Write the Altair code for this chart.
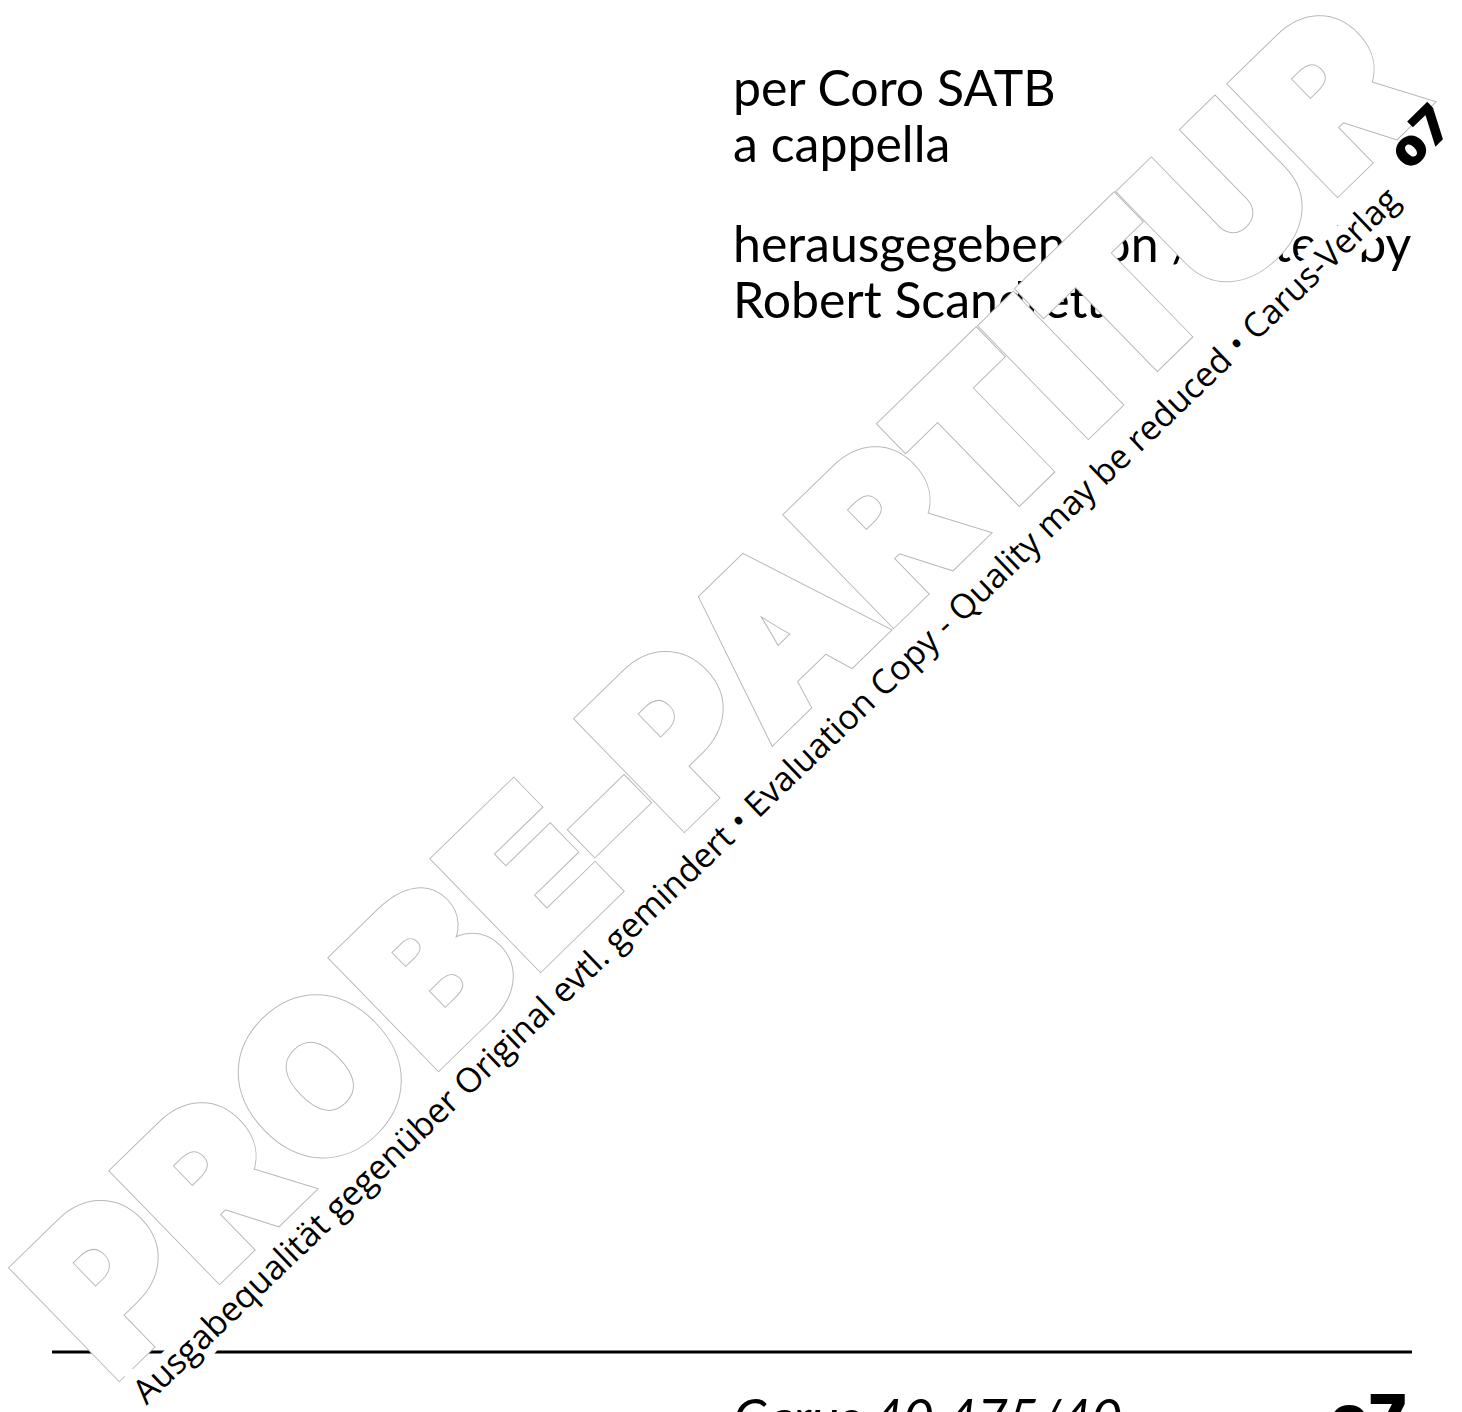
import altair as alt
import pandas as pd

# ---- text content ----
title_lines = ["per Coro SATB", "a cappella", "herausgegeben von / edited by", "Robert Scandrett"]
title_x = [733, 733, 733, 733]
title_y = [106, 162, 262, 318]

footer_text = ["Carus 40.475/40"]
footer_x = [733]
footer_y = [1437]

rule_x1 = [52]
rule_x2 = [1412]
rule_y = [1352]

# watermark letters of "PROBE-PARTITUR" and their baseline anchor points
stamp_letters = ["P", "R", "O", "B", "E", "-", "P", "A", "R", "T", "I", "T", "U", "R"]
stamp_x = [161, 262, 372, 481, 579, 651, 726, 829, 936, 1034, 1103, 1172, 1273, 1380]
stamp_y = [1335, 1237, 1130, 1024, 929, 859, 786, 685, 581, 486, 419, 351, 254, 150]

notice_text = ["Ausgabequalität gegenüber Original evtl. gemindert • Evaluation Copy - Quality may be reduced • Carus-Verlag"]
notice_x = [774]
notice_y = [804]

logo_text = ["o7", "o7"]
logo_x = [1432, 1368]
logo_y = [150, 1440]
logo_angle = [315.8, 0]
logo_size = [52, 63]

# ---- scales: page pixel coordinates ----
xs = alt.Scale(domain=[8, 1454], nice=False, zero=False)
ys = alt.Scale(domain=[8, 1412], nice=False, zero=False, reverse=True)


def base(df):
    return alt.Chart(df).encode(
        x=alt.X("x:Q", scale=xs, axis=None),
        y=alt.Y("y:Q", scale=ys, axis=None),
    )


titles = base(pd.DataFrame({"t": title_lines, "x": title_x, "y": title_y})).mark_text(
    font="Lato", fontSize=50, align="left", baseline="alphabetic", color="black"
).encode(text="t:N")

footer = base(pd.DataFrame({"t": footer_text, "x": footer_x, "y": footer_y})).mark_text(
    font="Lato", fontSize=53, fontStyle="italic", align="left", baseline="alphabetic", color="black"
).encode(text="t:N")

rule = alt.Chart(pd.DataFrame({"x": rule_x1, "x2": rule_x2, "y": rule_y})).mark_rule(
    color="black", strokeWidth=3
).encode(
    x=alt.X("x:Q", scale=xs, axis=None),
    x2="x2:Q",
    y=alt.Y("y:Q", scale=ys, axis=None),
)

stamp_df = pd.DataFrame({"t": stamp_letters, "x": stamp_x, "y": stamp_y})
stamp_common = dict(font="Inter", fontWeight=900, fontSize=206, angle=315.8,
                    align="center", baseline="alphabetic", strokeJoin="miter", strokeMiterLimit=10)
# thin grey contour slightly outside a white, emboldened letter
stamp_edge = base(stamp_df).mark_text(
    fill="#b8b8b8", stroke="#b8b8b8", strokeWidth=10, **stamp_common
).encode(text="t:N")
stamp_body = base(stamp_df).mark_text(
    fill="white", stroke="white", strokeWidth=8, **stamp_common
).encode(text="t:N")

notice_df = pd.DataFrame({"t": notice_text, "x": notice_x, "y": notice_y})
notice_halo = base(notice_df).mark_text(
    font="Open Sans", fontSize=34, fill="white", stroke="white", strokeWidth=18,
    angle=316.2, align="center", baseline="alphabetic"
).encode(text="t:N")
notice = base(notice_df).mark_text(
    font="Open Sans", fontSize=34, color="black",
    angle=316.2, align="center", baseline="alphabetic"
).encode(text="t:N")

logo_df = pd.DataFrame({"t": logo_text, "x": logo_x, "y": logo_y, "a": logo_angle, "s": logo_size})
logo = base(logo_df).mark_text(
    font="Inter", fontWeight=900, color="black", align="center", baseline="alphabetic"
).encode(text="t:N", angle=alt.Angle("a:Q", scale=None), size=alt.Size("s:Q", scale=None))

chart = alt.layer(titles, footer, rule, stamp_edge, stamp_body, notice_halo, notice, logo).properties(
    width=1446, height=1404, padding=0, autosize=alt.AutoSizeParams(type="none")
).configure_view(stroke=None)

chart.save("out.html", embed_options={"renderer": "svg", "actions": False})
